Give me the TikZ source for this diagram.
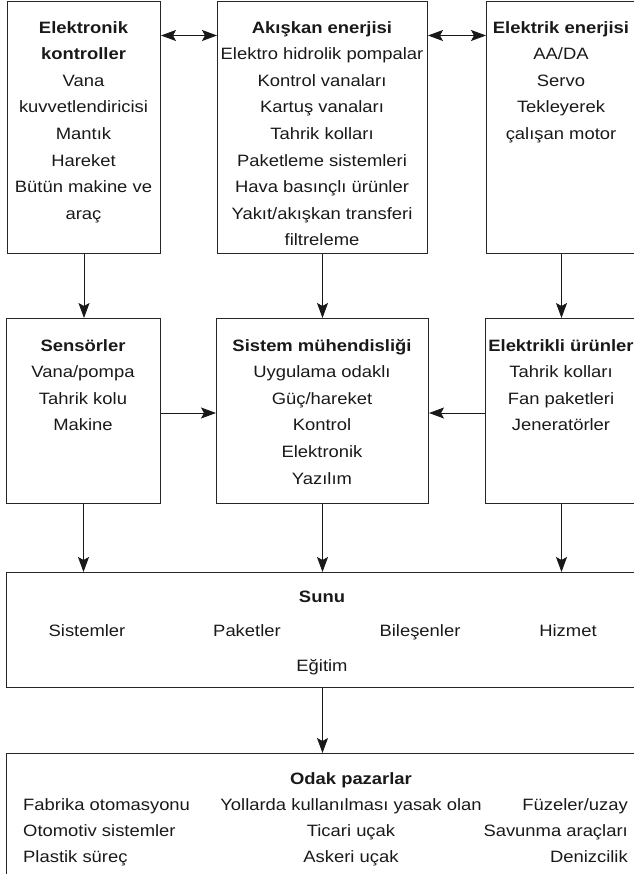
\documentclass[tikz,border=0pt]{standalone}
\usepackage{fontspec}
\setmainfont{Liberation Sans}[FakeStretch=1.12]
\usetikzlibrary{arrows.meta,calc}
\begin{document}
\begin{tikzpicture}[x=1bp,y=-1bp,
 box/.style={draw=black!85,line width=1bp,rectangle,inner sep=0pt,anchor=north west},
 txt/.style={inner sep=0pt,anchor=base,text=black!90,font=\fontsize{16.5}{20}\selectfont},
 ttl/.style={txt,font=\fontsize{16.5}{20}\selectfont\bfseries},
 tip/.tip={Stealth[length=15bp,width=11bp,inset=3bp]},
 arr/.style={-tip,line width=0.9bp,draw=black!90},
 darr/.style={tip-tip,line width=0.9bp,draw=black!90}]
\useasboundingbox (0,0) rectangle (634,874);
% boxes
\node[box,minimum width=153bp,minimum height=252.5bp] (A) at (7,0.5) {};
\node[box,minimum width=210bp,minimum height=252.5bp] (B) at (217,0.5) {};
\node[box,minimum width=150bp,minimum height=252.5bp] (C) at (486,0.5) {};
\node[box,minimum width=154bp,minimum height=185bp] (D) at (6,318) {};
\node[box,minimum width=212bp,minimum height=185bp] (E) at (216,318) {};
\node[box,minimum width=152bp,minimum height=185bp] (F) at (485,318) {};
\node[box,minimum width=632bp,minimum height=115bp] (S) at (6,572) {};
\node[box,minimum width=640bp,minimum height=130bp] (O) at (6,753) {};
% box A
\node[ttl] (at1) at (83.5,33) {Elektronik};
\node[ttl] (at2) at (83.5,59.6) {kontroller};
\foreach \t [count=\i from 2] in {Vana,kuvvetlendiricisi,Mantık,Hareket,Bütün makine ve,araç}
  \node[txt] (a\i) at (83.5,{33+26.6*\i}) {\t};
% box B
\node[ttl] (bt) at (322,33) {Akışkan enerjisi};
\foreach \t [count=\i from 1] in {Elektro hidrolik pompalar,Kontrol vanaları,Kartuş vanaları,Tahrik kolları,Paketleme sistemleri,Hava basınçlı ürünler,Yakıt/akışkan transferi,filtreleme}
  \node[txt] (b\i) at (322,{33+26.6*\i}) {\t};
% box C
\node[ttl] (ct) at (561,33) {Elektrik enerjisi};
\foreach \t [count=\i from 1] in {AA/DA,Servo,Tekleyerek,çalışan motor}
  \node[txt] (c\i) at (561,{33+26.6*\i}) {\t};
% box D
\node[ttl] (dt) at (83,351) {Sensörler};
\foreach \t [count=\i from 1] in {Vana/pompa,Tahrik kolu,Makine}
  \node[txt] (d\i) at (83,{351+26.6*\i}) {\t};
% box E
\node[ttl] (et) at (322,351) {Sistem mühendisliği};
\foreach \t [count=\i from 1] in {Uygulama odaklı,Güç/hareket,Kontrol,Elektronik,Yazılım}
  \node[txt] (e\i) at (322,{351+26.6*\i}) {\t};
% box F
\node[ttl] (ft) at (561,351) {Elektrikli ürünler};
\foreach \t [count=\i from 1] in {Tahrik kolları,Fan paketleri,Jeneratörler}
  \node[txt] (f\i) at (561,{351+26.6*\i}) {\t};
% Sunu
\node[ttl] (st) at (322,602) {Sunu};
\node[txt] (s1) at (87,636) {Sistemler};
\node[txt] (s2) at (247,636) {Paketler};
\node[txt] (s3) at (420,636) {Bileşenler};
\node[txt] (s4) at (568,636) {Hizmet};
\node[txt] (s5) at (322,671) {Eğitim};
% Odak
\node[ttl] (ot) at (351,784) {Odak pazarlar};
\node[txt,anchor=base west] (o1) at (23,810) {Fabrika otomasyonu};
\node[txt,anchor=base west] (o2) at (23,836) {Otomotiv sistemler};
\node[txt,anchor=base west] (o3) at (23,862) {Plastik süreç};
\node[txt] (o4) at (351,810) {Yollarda kullanılması yasak olan};
\node[txt] (o5) at (351,836) {Ticari uçak};
\node[txt] (o6) at (351,862) {Askeri uçak};
\node[txt,anchor=base east] (o7) at (628,810) {Füzeler/uzay};
\node[txt,anchor=base east] (o8) at (628,836) {Savunma araçları};
\node[txt,anchor=base east] (o9) at (628,862) {Denizcilik};
% connectors
\draw[darr] ($(A.north east)+(0,35)$) -- ($(B.north west)+(0,35)$);
\draw[darr] ($(B.north east)+(0,35)$) -- ($(C.north west)+(0,35)$);
\draw[arr] (A.south) -- (A.south |- D.north);
\draw[arr] (B.south) -- (B.south |- E.north);
\draw[arr] (C.south) -- (C.south |- F.north);
\draw[arr] ($(D.north east)+(0,95)$) -- ($(E.north west)+(0,95)$);
\draw[arr] ($(F.north west)+(0,95)$) -- ($(E.north east)+(0,95)$);
\draw[arr] (D.south) -- (D.south |- S.north);
\draw[arr] (E.south) -- (E.south |- S.north);
\draw[arr] (F.south) -- (F.south |- S.north);
\draw[arr] (S.south) -- (S.south |- O.north);
\end{tikzpicture}
\end{document}
